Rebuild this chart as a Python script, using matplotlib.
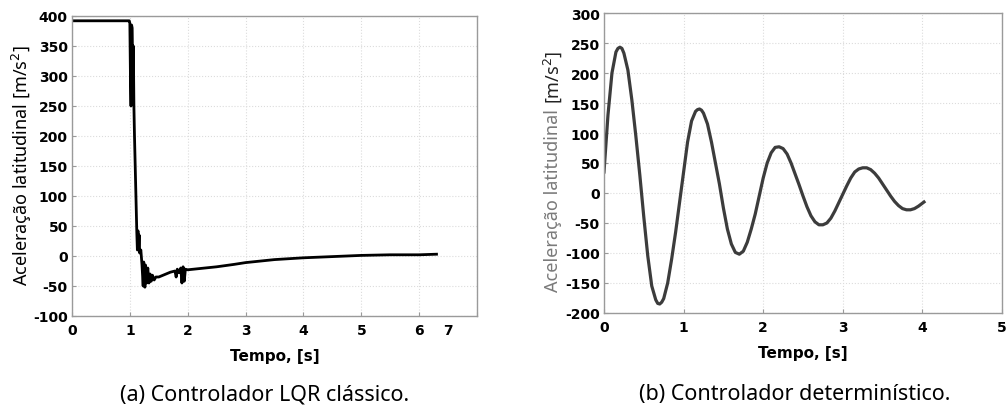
import matplotlib
matplotlib.use("Agg")
import matplotlib.pyplot as plt
import matplotlib.transforms as mtransforms

plt.rcParams['font.family'] = ['Noto Sans', 'DejaVu Sans']
BOLD = ['DejaVu Sans']

# (a) classical LQR controller
t_lqr = [0, 0.97, 0.99, 1.0, 1.01, 1.02, 1.03, 1.04, 1.05, 1.06, 1.07, 1.08,
         1.1, 1.12, 1.13, 1.14, 1.15, 1.16, 1.17, 1.19, 1.21, 1.23, 1.24, 1.26,
         1.27, 1.29, 1.31, 1.33, 1.35, 1.37, 1.39, 1.42, 1.45, 1.5, 1.6, 1.7,
         1.78, 1.8, 1.82, 1.85, 1.88, 1.9, 1.92, 1.94, 1.96, 2.0, 2.2, 2.5,
         2.8, 3.0, 3.5, 4.0, 4.5, 5.0, 5.5, 6.0, 6.3]
a_lqr = [392, 392, 392, 388, 300, 250, 385, 380, 300, 350, 250, 200,
         120, 40, 10, 42, 12, 35, 5, 10, -15, -50, -10, -52,
         -15, -45, -20, -45, -30, -42, -32, -40, -35, -35, -31, -27,
         -25, -35, -22, -28, -20, -45, -18, -42, -22, -23, -21, -18,
         -14, -11, -6, -3, -1, 1, 2, 2, 3]

# (b) deterministic controller
t_det = [0, 0.05, 0.1, 0.15, 0.175, 0.2, 0.225, 0.25, 0.3, 0.35, 0.4, 0.45,
         0.5, 0.55, 0.6, 0.65, 0.675, 0.7, 0.725, 0.75, 0.8, 0.85, 0.9, 0.95,
         1.0, 1.05, 1.1, 1.15, 1.175, 1.2, 1.225, 1.25, 1.3, 1.35, 1.4, 1.45,
         1.5, 1.55, 1.6, 1.65, 1.7, 1.75, 1.8, 1.85, 1.9, 1.95, 2.0, 2.05,
         2.1, 2.15, 2.2, 2.25, 2.3, 2.35, 2.4, 2.45, 2.5, 2.55, 2.6, 2.65,
         2.7, 2.75, 2.8, 2.85, 2.9, 2.95, 3.0, 3.05, 3.1, 3.15, 3.2, 3.25,
         3.3, 3.35, 3.4, 3.45, 3.5, 3.55, 3.6, 3.65, 3.7, 3.75, 3.8, 3.85,
         3.9, 3.95, 4.02]
a_det = [35, 130, 200, 235, 241, 243, 241, 233, 205, 155, 95, 30,
         -40, -105, -155, -178, -184, -185, -182, -176, -150, -110, -65, -15,
         35, 85, 120, 136, 139, 140, 138, 133, 115, 85, 50, 15,
         -25, -60, -85, -99, -102, -97, -82, -60, -35, -5, 25, 50,
         67, 76, 77, 74, 65, 50, 32, 14, -5, -23, -38, -48,
         -53, -53, -50, -42, -30, -16, -2, 12, 25, 35, 40, 42,
         42, 39, 33, 25, 15, 5, -5, -14, -21, -26, -28, -28,
         -26, -22, -15]

W, H = 1007, 410
fig = plt.figure(figsize=(W / 100, H / 100), dpi=100)
ax1 = fig.add_axes([72 / W, 1 - 317 / H, 405 / W, 300 / H])
ax2 = fig.add_axes([604 / W, 1 - 314 / H, 398 / W, 300 / H])


def style(ax, xt, yt):
    ax.set_xticks(xt)
    ax.set_yticks(yt)
    ax.grid(True, color='#dcdcdc', linestyle=':', linewidth=0.8)
    for s in ax.spines.values():
        s.set_color('#9a9a9a')
        s.set_linewidth(1.0)
    ax.tick_params(direction='in', length=3, color='#9a9a9a')
    ax.tick_params(axis='x', pad=5)
    ax.tick_params(axis='y', pad=3)
    ax.set_xticklabels([str(v) for v in xt], family=BOLD, weight='bold',
                       fontsize=10)
    ax.set_yticklabels([str(v) for v in yt], family=BOLD, weight='bold',
                       fontsize=10)
    ax.set_xlabel('Tempo, [s]', family=BOLD, weight='bold', fontsize=11,
                  labelpad=8)


ax1.plot(t_lqr, a_lqr, color='black', linewidth=2.0)
ax1.set_xlim(0, 7)
ax1.set_ylim(-100, 400)
style(ax1, list(range(0, 8)), list(range(-100, 401, 50)))
# the "7" label sits left of its tick in the original
last = ax1.get_xticklabels()[-1]
last.set_transform(last.get_transform() +
                   mtransforms.ScaledTranslation(-0.29, 0, fig.dpi_scale_trans))
fig.text(22 / W, 1 - 166 / H, 'Aceleração latitudinal [m/s$^2$]',
         rotation=90, ha='center', va='center', fontsize=13)

ax2.plot(t_det, a_det, color='#3c3c3c', linewidth=2.3)
ax2.set_xlim(0, 5)
ax2.set_ylim(-200, 300)
style(ax2, list(range(0, 6)), list(range(-200, 301, 50)))

lab1 = fig.text(553 / W, 1 - 292 / H, 'Aceleração latitudinal', rotation=90,
                ha='center', va='bottom', fontsize=13, color='#7a7a7a')
fig.canvas.draw()
bb = lab1.get_window_extent()
fig.text(553 / W, bb.y1 / H + 5 / H, '[m/s$^2$]', rotation=90, ha='center',
         va='bottom', fontsize=13, color='#222222')

fig.text(265 / W, 1 - 395 / H, '(a) Controlador LQR clássico.',
         ha='center', va='center', fontsize=15.5)
fig.text(795 / W, 1 - 395 / H, '(b) Controlador determinístico.',
         ha='center', va='center', fontsize=15.5)

fig.savefig('out.png', dpi=100)
